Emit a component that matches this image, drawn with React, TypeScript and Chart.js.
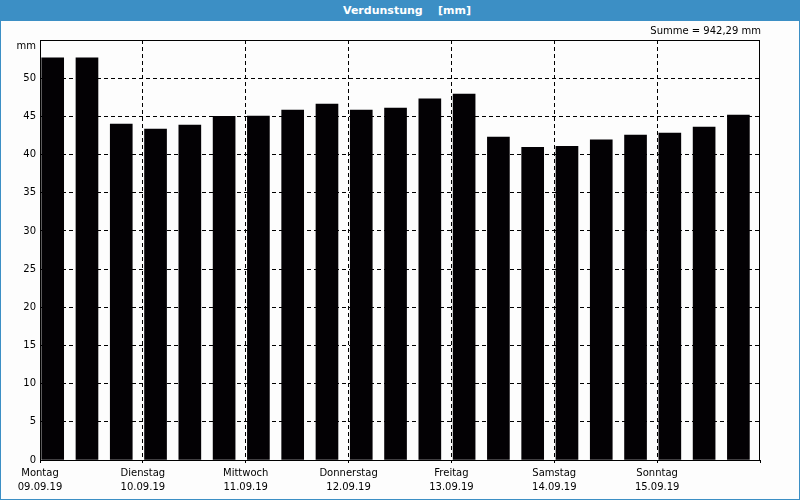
import React, { useEffect, useRef } from "react";
import { Chart, registerables } from "chart.js";

Chart.register(...registerables);

const dayNames = ["Montag", "Dienstag", "Mittwoch", "Donnerstag", "Freitag", "Samstag", "Sonntag"];
const dayDates = ["09.09.19", "10.09.19", "11.09.19", "12.09.19", "13.09.19", "14.09.19", "15.09.19"];
const valuesMm = [
  52.67, 52.67, 44.0,
  43.33, 43.86, 45.0,
  45.04, 45.83, 46.6,
  45.83, 46.09, 47.28,
  47.93, 42.28, 40.96,
  41.09, 41.92, 42.54,
  42.8, 43.59, 45.17,
];
const barsPerDay = 3;
const yMax = 55;
const yStep = 5;
const sumLabel = "Summe = 942,29 mm";
const titleText = "Verdunstung    [mm]";
const unitLabel = "mm";

const BLUE = "#3c8fc5";
const FONT = "'DejaVu Sans', Tahoma, Verdana, sans-serif";

export default function App() {
  const canvasRef = useRef<HTMLCanvasElement | null>(null);

  useEffect(() => {
    const canvas = canvasRef.current;
    if (!canvas) return;
    const barShift = 0.37;
    const frame = {
      id: "frame",
      afterDatasetsDraw(chart: any) {
        const { ctx, chartArea } = chart;
        const l = Math.round(chartArea.left) + 0.5;
        const t = Math.round(chartArea.top) + 0.5;
        const r = Math.round(chartArea.right) - 0.5;
        const b = Math.round(chartArea.bottom) + 0.5;
        ctx.save();
        ctx.strokeStyle = "#000";
        ctx.lineWidth = 1;
        ctx.setLineDash([]);
        ctx.strokeRect(l, t, r - l, b - t);
        ctx.restore();
      },
    };
    const chart = new Chart(canvas, {
      type: "bar",
      data: {
        datasets: [
          {
            data: valuesMm.map((v, i) => ({ x: i + barShift, y: v })),
            backgroundColor: "#030104",
            borderWidth: 0,
            barThickness: 22,
          },
        ],
      },
      options: {
        responsive: false,
        animation: false,
        devicePixelRatio: 1,
        layout: { padding: { top: 40, right: 40, left: 0, bottom: 0 } },
        plugins: {
          legend: { display: false },
          tooltip: { enabled: false },
          title: { display: false },
        },
        scales: {
          x: {
            type: "linear",
            min: 0,
            max: valuesMm.length,
            offset: false,
            afterFit: (s: any) => {
              s.height = 40;
            },
            ticks: {
              stepSize: barsPerDay,
              autoSkip: false,
              maxRotation: 0,
              minRotation: 0,
              padding: 3,
              color: "#000",
              font: { family: FONT, size: 10, lineHeight: 1.45 },
              callback: (value: any) => {
                const idx = Math.round(Number(value) / barsPerDay);
                if (idx >= dayNames.length) return "";
                return [dayNames[idx], dayDates[idx]];
              },
            },
            grid: {
              offset: false,
              color: (ctx: any) =>
                ctx.tick && (ctx.tick.value === 0 || ctx.tick.value >= valuesMm.length) ? "rgba(0,0,0,0)" : "#000",
              lineWidth: 1,
              drawTicks: true,
              tickLength: 3,
              tickColor: "#000",
            },
            border: { display: true, color: "#000", width: 1, dash: [4, 3] },
          },
          y: {
            min: 0,
            max: yMax,
            afterFit: (s: any) => {
              s.width = 40;
            },
            ticks: {
              stepSize: yStep,
              padding: 4,
              color: "#000",
              font: { family: FONT, size: 10 },
              callback: (value: any) => (Number(value) >= yMax ? "" : String(value)),
            },
            grid: {
              color: (ctx: any) =>
                ctx.tick && (ctx.tick.value === 0 || ctx.tick.value >= yMax) ? "rgba(0,0,0,0)" : "#000",
              lineWidth: 1,
              drawTicks: false,
            },
            border: { display: true, color: "#000", width: 1, dash: [4, 3] },
          },
        },
      },
      plugins: [frame],
    });
    return () => chart.destroy();
  }, []);

  return (
    <div
      style={{
        position: "fixed",
        left: 0,
        top: 0,
        width: 800,
        height: 500,
        background: "#fdfdfd",
        fontFamily: FONT,
        overflow: "hidden",
      }}
    >
      <canvas ref={canvasRef} width={800} height={500} style={{ position: "absolute", left: 0, top: 0 }} />
      <div
        style={{
          position: "absolute",
          left: 0,
          top: 0,
          width: 800,
          height: 21,
          background: BLUE,
          color: "#fff",
          fontWeight: "bold",
          fontSize: 11,
          lineHeight: "21px",
          textAlign: "center",
          whiteSpace: "pre",
          paddingLeft: 14,
          boxSizing: "border-box",
        }}
      >
        {titleText}
      </div>
      <div
        style={{
          position: "absolute",
          right: 39,
          top: 25,
          fontSize: 10,
          color: "#000",
          whiteSpace: "pre",
        }}
      >
        {sumLabel}
      </div>
      <div
        style={{
          position: "absolute",
          right: 764,
          top: 40,
          fontSize: 10,
          color: "#000",
        }}
      >
        {unitLabel}
      </div>
      <div
        style={{
          position: "absolute",
          left: 0,
          top: 0,
          width: 800,
          height: 500,
          border: `1px solid ${BLUE}`,
          boxSizing: "border-box",
          pointerEvents: "none",
        }}
      />
    </div>
  );
}
